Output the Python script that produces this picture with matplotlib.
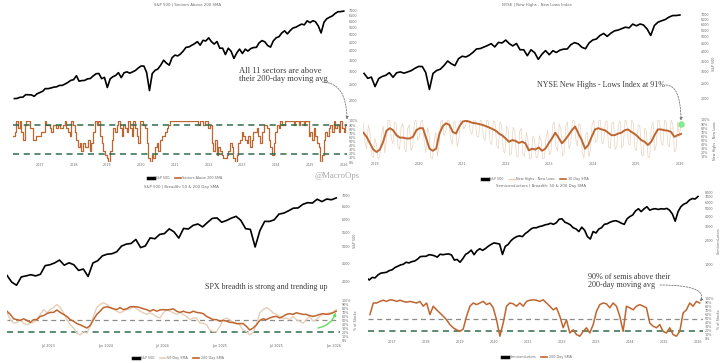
import matplotlib
matplotlib.use("Agg")
import matplotlib.pyplot as plt
from matplotlib.lines import Line2D
from matplotlib.ticker import NullLocator
import pandas as pd

W, H = 720, 363

# S&P 500 monthly closes, Mar 2016 - Dec 2025 (intra-month lows kept for crash months)
spx_monthly = [
    2060, 2065, 2097, 2099, 2174, 2171, 2168, 2126, 2199, 2239,
    2279, 2364, 2363, 2384, 2412, 2423, 2470, 2472, 2519, 2575, 2648, 2674,
    2824, 2620, 2641, 2648, 2705, 2718, 2816, 2902, 2914, 2712, 2760, 2400,
    2704, 2784, 2834, 2946, 2752, 2942, 2980, 2926, 2977, 3038, 3141, 3231,
    3226, 2954, 2300, 2912, 3044, 3100, 3271, 3500, 3363, 3270, 3622, 3756,
    3714, 3811, 3973, 4181, 4204, 4298, 4395, 4523, 4308, 4605, 4567, 4766,
    4516, 4374, 4530, 4132, 4132, 3785, 4130, 3955, 3586, 3872, 4080, 3840,
    4077, 3970, 4109, 4169, 4180, 4450, 4589, 4508, 4288, 4194, 4568, 4770,
    4846, 5096, 5254, 5036, 5278, 5460, 5522, 5648, 5762, 5705, 6032, 5882,
    6041, 5955, 5612, 5100, 5912, 6205, 6339, 6460, 6688, 6840, 6849, 6900,
]

# Semiconductors index monthly, Mar 2016 - Dec 2025
semis_monthly = [
    690, 650, 700, 690, 750, 790, 800, 810, 850, 870,
    930, 960, 1000, 1020, 1080, 1060, 1100, 1120, 1180, 1270, 1280, 1280,
    1340, 1330, 1300, 1250, 1360, 1340, 1360, 1370, 1330, 1150, 1170, 1080,
    1200, 1350, 1420, 1530, 1340, 1500, 1590, 1520, 1600, 1710, 1800, 1880,
    1850, 1820, 1350, 1700, 1800, 2000, 2150, 2250, 2300, 2250, 2450, 2600,
    2800, 2900, 2900, 3000, 3050, 3150, 3200, 3300, 3200, 3350, 3700, 3750,
    3400, 3300, 3150, 2900, 2800, 2600, 2950, 2700, 2250, 2100, 2600, 2500,
    2800, 2900, 3200, 3250, 3400, 3500, 3550, 3450, 3300, 3200, 3750, 4000,
    4200, 4700, 5000, 4600, 5000, 5300, 4800, 4950, 5000, 4900, 5000, 4950,
    5050, 4800, 4300, 3500, 4600, 5300, 5700, 5900, 6400, 6700, 6600, 7100,
]

# number of S&P 500 sectors (out of 11) above their 200-day SMA
sectors_above = [
    7, 8, 11, 9, 11, 8, 6, 10, 11, 11, 9, 9, 6, 6, 7, 7, 7, 8, 8, 11,
    10, 10, 9, 8, 10, 10, 9, 10, 9, 9, 10, 11, 9, 8, 7, 11, 10, 8, 6, 4,
    5, 3, 5, 4, 4, 6, 3, 5, 8, 11, 10, 11, 7, 5, 3, 2, 1, 0, 3, 6,
    9, 8, 10, 11, 9, 7, 10, 9, 8, 11, 9, 7, 11, 9, 7, 5, 11, 11, 10, 9,
    5, 1, 0, 2, 1, 4, 5, 3, 6, 7, 7, 8, 9, 10, 11, 11, 11, 11, 11, 11,
    11, 11, 11, 11, 11, 11, 11, 11, 11, 11, 11, 10, 11, 11, 10, 11, 11, 9, 10, 5,
    3, 6, 2, 4, 3, 2, 1, 1, 2, 3, 5, 4, 1, 0, 2, 5, 6, 8, 7, 6,
    5, 7, 4, 6, 8, 8, 9, 7, 5, 8, 10, 10, 9, 6, 4, 2, 5, 8, 10, 9,
    11, 10, 10, 11, 11, 11, 11, 11, 10, 11, 11, 10, 11, 11, 10, 11, 11, 7, 8, 6,
    9, 7, 5, 4, 0, 2, 6, 8, 7, 9, 10, 8, 11, 9, 10, 8, 11, 9, 8, 10,
    11,
]

# NYSE new highs - new lows index (%) and its 10 day SMA
nhnl_raw = [
    92, 45, 30, 88, 70, 15, 8, 55, 40, 5, 10, 62, 85, 20, 48, 100, 98, 55, 42, 95,
    90, 35, 28, 84, 92, 30, 22, 80, 88, 25, 35, 95, 100, 50, 58, 97, 100, 45, 20, 82,
    65, 8, 5, 48, 70, 12, 40, 96, 100, 62, 70, 100, 100, 55, 40, 97, 94, 35, 52, 100,
    100, 78, 85, 100, 100, 72, 65, 100, 99, 60, 58, 100, 97, 55, 50, 100, 95, 45, 40, 98,
    92, 38, 30, 95, 88, 25, 20, 85, 78, 15, 18, 82, 76, 12, 10, 72, 80, 15, 12, 70,
    52, 5, 6, 60, 55, 8, 10, 62, 50, 5, 8, 58, 75, 15, 22, 88, 96, 35, 25, 90,
    78, 12, 20, 85, 95, 30, 42, 100, 100, 55, 35, 92, 85, 18, 8, 62, 70, 10, 28, 90,
    100, 45, 50, 98, 100, 42, 45, 95, 98, 35, 30, 92, 95, 28, 35, 90, 98, 32, 40, 100,
    96, 45, 38, 100, 92, 30, 25, 88, 85, 15, 12, 80, 72, 8, 10, 82, 95, 25, 40, 100,
    98, 45, 38, 100, 95, 40, 35, 100, 90, 22, 28, 96, 60, 91,
]
nhnl_sma = [
    69, 59, 43, 28, 22, 28, 47, 74, 80, 75,
    63, 57, 57, 55, 55, 59, 75, 80, 80, 55,
    30, 25, 30, 67, 85, 92, 88, 71, 67, 84,
    96, 98, 96, 93, 92, 90, 88, 85, 82, 78,
    74, 67, 62, 55, 47, 51, 49, 44, 47, 43,
    26, 30, 28, 33, 25, 30, 43, 55, 69, 57,
    43, 52, 63, 75, 84, 67, 51, 30, 39, 59,
    77, 80, 77, 75, 69, 63, 63, 67, 69, 75,
    77, 71, 66, 59, 51, 47, 39, 47, 63, 77,
    77, 75, 74, 71, 59, 63, 66,
]

# S&P 500 twice a month, Feb 2023 - Dec 2025
spx_recent = [
    4150, 3970, 3890, 4109, 4137, 4169, 4136, 4180, 4425, 4450, 4505, 4589,
    4437, 4508, 4450, 4288, 4327, 4120, 4502, 4568, 4719, 4770,
    4784, 4846, 5029, 5096, 5117, 5254, 4980, 5036, 5308, 5278, 5431, 5460,
    5631, 5522, 5300, 5648, 5626, 5762, 5815, 5705, 5870, 6032, 6051, 5882,
    5949, 6041, 6114, 5955, 5639, 5612, 5000, 5569, 5916, 5912, 5977, 6205,
    6244, 6339, 6450, 6460, 6615, 6688, 6671, 6840, 6734, 6849, 6816, 6900,
]
# % of S&P 500 stocks above their 50 / 200 day SMA
spx_pct_50d = [
    68, 51, 42, 44, 51, 42, 38, 42, 44, 53,
    64, 76, 68, 76, 81, 89, 81, 68, 51, 38,
    30, 17, 13, 21, 17, 34, 59, 81, 89, 93,
    89, 81, 78, 72, 68, 72, 76, 78, 85, 78,
    72, 68, 64, 68, 64, 58, 55, 68, 76, 72,
    68, 64, 69, 64, 59, 51, 55, 55, 42, 42,
    38, 25, 21, 21, 34, 51, 55, 51, 42, 42,
    38, 25, 21, 13, 19, 38, 68, 76, 81, 76,
    68, 64, 59, 53, 55, 51, 59, 51, 47, 42,
    51, 59, 47, 51, 59, 64, 66, 68, 69, 76,
]
spx_pct_200d = [
    72, 64, 53, 51, 49, 53, 49, 44, 51, 51,
    59, 61, 66, 69, 69, 75, 69, 64, 59, 51,
    47, 41, 38, 34, 30, 36, 51, 64, 72, 81,
    83, 81, 78, 76, 81, 76, 78, 83, 83, 83,
    81, 78, 76, 72, 76, 72, 75, 76, 75, 76,
    78, 72, 69, 72, 69, 68, 72, 69, 68, 66,
    59, 55, 51, 51, 47, 49, 47, 44, 44, 41,
    41, 41, 34, 25, 30, 38, 49, 53, 51, 55,
    58, 59, 55, 59, 64, 66, 64, 68, 66, 64,
    64, 61, 59, 61, 64, 66, 64, 65, 68, 72,
]

# % of semiconductor stocks above their 200 day SMA
semis_pct_200d = [
    61, 90, 90, 94, 97, 94, 98, 97, 94, 97,
    94, 92, 94, 92, 90, 94, 82, 90, 61, 82,
    73, 65, 57, 48, 36, 28, 23, 19, 25, 57,
    82, 90, 86, 90, 94, 86, 90, 78, 48, 7,
    40, 82, 90, 88, 82, 90, 82, 94, 97, 98,
    97, 94, 98, 90, 82, 73, 78, 57, 28, 48,
    15, 23, 11, 7, 19, 28, 15, 36, 69, 86,
    90, 88, 78, 90, 82, 57, 19, 82, 78, 73,
    82, 86, 82, 78, 40, 32, 28, 36, 19, 15,
    28, 11, 7, 19, 65, 73, 90, 82, 94, 90,
]

ORANGE = "#bf6530"
TAN = "#e6cfb8"
DGREEN = "#2f6b4c"
DASHGRAY = "#8c8c8c"
TXT = "#6a6a6a"
NOTE = "#3c3c3c"
LAB = 2.4

monthly_dates = pd.date_range("2016-04-01", periods=len(spx_monthly), freq="MS")
sector_dates = pd.date_range("2016-03-17", "2026-02-05", periods=len(sectors_above))
nhnl_raw_dates = pd.date_range("2018-09-25", "2026-01-10", periods=len(nhnl_raw))
nhnl_sma_dates = pd.date_range("2018-09-25", "2026-01-10", periods=len(nhnl_sma))
recent_dates = pd.date_range("2023-02-20", "2026-01-10", periods=len(spx_recent))
recent_breadth_dates = pd.date_range("2023-02-20", "2026-01-10", periods=len(spx_pct_200d))
semis_breadth_dates = pd.date_range("2016-05-08", "2026-01-20", periods=len(semis_pct_200d))


def pix_box(x0, y0, x1, y1):
    return [x0 / W, 1 - y1 / H, (x1 - x0) / W, (y1 - y0) / H]


def clean(ax):
    for s in ax.spines.values():
        s.set_visible(False)
    ax.patch.set_alpha(0)
    ax.yaxis.tick_right()
    ax.tick_params(length=0, labelsize=LAB, colors=TXT, pad=1.5)


def price_axes(box, xlim, ylim, ticks):
    ax = fig.add_axes(pix_box(*box))
    clean(ax)
    ax.set_yscale("log")
    ax.set_ylim(*ylim)
    ax.set_yticks(ticks)
    ax.set_yticklabels([str(t) for t in ticks])
    ax.yaxis.set_minor_locator(NullLocator())
    ax.set_xlim(*xlim)
    ax.set_xticks([])
    return ax


def breadth_axes(box, xlim, yticks, xticks, xlabels, xpad=1.0):
    ax = fig.add_axes(pix_box(*box))
    clean(ax)
    ax.set_ylim(0, 100)
    ax.set_yticks(yticks)
    ax.set_yticklabels([f"{v}%" for v in yticks])
    ax.set_xlim(*xlim)
    ax.set_xticks(xticks)
    ax.set_xticklabels(xlabels)
    ax.tick_params(axis="x", pad=xpad)
    return ax


def legend(handles, labels, cx, cy):
    fig.legend(handles, labels, loc="center", bbox_to_anchor=(cx / W, 1 - cy / H),
               ncol=len(handles), frameon=False, fontsize=LAB, handlelength=1.8,
               columnspacing=1.5, handletextpad=0.5, labelcolor=TXT)


def note_arrow(ax, xy, start, color="#7a7a7a", style="angle3,angleA=0,angleB=90", dashed=True):
    ax.annotate("", xy=xy, xycoords="data", xytext=(start[0], H - start[1]),
                textcoords="figure pixels",
                arrowprops=dict(arrowstyle="-|>", color=color, lw=0.6 if dashed else 1.0,
                                linestyle=(0, (2, 1.5)) if dashed else "-",
                                mutation_scale=4, shrinkA=0, shrinkB=1,
                                connectionstyle=style))


def years(a, b):
    return [pd.Timestamp(f"{y}-01-01") for y in range(a, b + 1)], [str(y) for y in range(a, b + 1)]


fig = plt.figure(figsize=(7.2, 3.63), dpi=100)
serif = ["Liberation Serif", "DejaVu Serif"]
k_line = Line2D([], [], color="black", lw=2.5)

# ---------------- top left: sectors above 200 SMA ----------------
tl_x = (pd.Timestamp("2016-03-17"), pd.Timestamp("2026-02-05"))
ax = price_axes((13, 8, 347, 118), tl_x, (1575, 7200), list(range(2000, 7001, 500)))
ax.plot(monthly_dates, spx_monthly, color="black", lw=1.2)
yt, yl = years(2017, 2026)
bx = breadth_axes((13, 121, 347, 162), tl_x, list(range(0, 101, 10)), yt, yl)
sector_pct = [c / 11 * 100 for c in sectors_above]
bx.plot(sector_dates, sector_pct, color=ORANGE, lw=0.9, drawstyle="steps-post")
bx.axhline(90, color=DGREEN, lw=1.1, ls=(0, (4, 3)))
bx.axhline(20, color=DGREEN, lw=1.1, ls=(0, (4, 3)))
fig.text(187 / W, 1 - 5 / H, "S&P 500 | Sectors Above 200 SMA", ha="center", va="center",
         fontsize=2.8, color=TXT)
fig.text(239 / W, 1 - 75 / H, "All 11 sectors are above\ntheir 200-day moving avg",
         ha="left", va="center", fontsize=6.1, color=NOTE, family=serif, linespacing=1.15)
note_arrow(bx, (sector_dates[-1], sector_pct[-1]), (322, 82))
legend([k_line, Line2D([], [], color=ORANGE, lw=1.2)], ["S&P 500", "Sectors Above 200 SMA"], 185, 178)
fig.text(337 / W, 1 - 176 / H, "@MacroOps", ha="center", va="center", fontsize=6.3,
         color="#a8a8a8", family=serif)

# ---------------- top right: NYSE new highs - new lows ----------------
tr_x = (pd.Timestamp("2018-09-22"), pd.Timestamp("2026-06-10"))
ax = price_axes((363, 8, 699, 120), tr_x, (1466, 7650), list(range(2000, 7001, 500)))
ax.plot(monthly_dates[monthly_dates >= "2018-10-01"],
        [v for d, v in zip(monthly_dates, spx_monthly) if d >= pd.Timestamp("2018-10-01")],
        color="black", lw=1.2)
ax.set_ylabel("S&P 500", fontsize=LAB, color=TXT, labelpad=2)
ax.yaxis.set_label_position("right")
yt, yl = years(2019, 2026)
bx = breadth_axes((363, 120, 699, 161), tr_x, list(range(10, 101, 10)), yt, yl)
bx.plot(nhnl_raw_dates, nhnl_raw, color=TAN, lw=0.45)
bx.plot(nhnl_sma_dates, nhnl_sma, color=ORANGE, lw=1.4)
bx.scatter([nhnl_raw_dates[-1]], [nhnl_raw[-1]], s=22, color="#86e88f", zorder=5, lw=0)
bx.set_ylabel("New Highs - New Lows", fontsize=LAB, color=TXT, labelpad=2)
bx.yaxis.set_label_position("right")
fig.text(537 / W, 1 - 5 / H, "NYSE | New Highs - New Lows Index", ha="center", va="center",
         fontsize=2.8, color=TXT)
fig.text(537 / W, 1 - 85 / H, "NYSE New Highs - Lows Index at 91%", ha="left", va="center",
         fontsize=5.8, color=NOTE, family=serif)
note_arrow(bx, (nhnl_raw_dates[-1], nhnl_raw[-1] + 4), (666, 85))
legend([k_line, Line2D([], [], color=TAN, lw=1.0), Line2D([], [], color=ORANGE, lw=1.2)],
       ["S&P 500", "New Highs - New Lows", "10 Day SMA"], 535, 179)

# ---------------- bottom left: S&P 500 breadth 50 & 200 ----------------
bl_x = (pd.Timestamp("2023-02-20"), pd.Timestamp("2026-01-22"))
ax = price_axes((7, 192, 340, 290), bl_x, (3771, 7172), list(range(4000, 7001, 500)))
ax.plot(recent_dates, spx_recent, color="black", lw=1.2)
ax.set_ylabel("S&P 500", fontsize=LAB, color=TXT, labelpad=2)
ax.yaxis.set_label_position("right")
half = ["2023-07-01", "2024-01-01", "2024-07-01", "2025-01-01", "2025-07-01", "2026-01-01"]
half_lab = ["Jul 2023", "Jan 2024", "Jul 2024", "Jan 2025", "Jul 2025", "Jan 2026"]
bx = breadth_axes((7, 300, 340, 340), bl_x, list(range(0, 101, 10)),
                  [pd.Timestamp(d) for d in half], half_lab, xpad=3)
bx.axhline(50, color=DASHGRAY, lw=0.9, ls=(0, (4, 3)))
bx.axhline(20, color=DGREEN, lw=1.1, ls=(0, (4, 3)))
bx.plot(recent_breadth_dates, spx_pct_50d, color=TAN, lw=1.0)
bx.plot(recent_breadth_dates, spx_pct_200d, color=ORANGE, lw=1.1)
bx.set_ylabel("% of Stocks", fontsize=LAB, color=TXT, labelpad=2)
bx.yaxis.set_label_position("right")
fig.text(181 / W, 1 - 187 / H, "S&P 500 | Breadth: 50 & 200 Day SMA", ha="center", va="center",
         fontsize=2.8, color=TXT)
fig.text(205 / W, 1 - 287 / H, "SPX breadth is strong and trending up", ha="left", va="center",
         fontsize=5.8, color=NOTE, family=serif)
note_arrow(bx, (recent_breadth_dates[-1], spx_pct_200d[-1]), (318, 328), color="#5fe05f",
           style="arc3,rad=0.3", dashed=False)
legend([k_line, Line2D([], [], color=TAN, lw=1.2), Line2D([], [], color=ORANGE, lw=1.2)],
       ["S&P 500", "50 Day SMA", "200 Day SMA"], 178, 358)

# ---------------- bottom right: semiconductors breadth ----------------
br_x = (pd.Timestamp("2016-04-17"), pd.Timestamp("2026-02-24"))
ax = price_axes((368, 192, 703, 290), br_x, (488, 8075), [1000, 2000, 3000, 4000, 5000, 6000, 7000, 8000])
ax.plot(monthly_dates, semis_monthly, color="black", lw=1.2)
ax.set_ylabel("Semiconductors", fontsize=LAB, color=TXT, labelpad=2)
ax.yaxis.set_label_position("right")
yt, yl = years(2017, 2026)
bx = breadth_axes((368, 299, 703, 339), br_x, list(range(0, 101, 10)), yt, yl)
bx.axhline(50, color=DASHGRAY, lw=0.9, ls=(0, (4, 3)))
bx.axhline(20, color=DGREEN, lw=1.1, ls=(0, (4, 3)))
bx.plot(semis_breadth_dates, semis_pct_200d, color=ORANGE, lw=1.1)
bx.set_ylabel("% of Stocks", fontsize=LAB, color=TXT, labelpad=2)
bx.yaxis.set_label_position("right")
fig.text(541 / W, 1 - 186 / H, "Semiconductors | Breadth: 50 & 200 Day SMA", ha="center",
         va="center", fontsize=2.8, color=TXT)
fig.text(588 / W, 1 - 281 / H, "90% of semis above their\n200-day moving avg", ha="left",
         va="center", fontsize=5.9, color=NOTE, family=serif, linespacing=1.15)
note_arrow(bx, (semis_breadth_dates[-1], semis_pct_200d[-1]), (660, 285),
           style="angle3,angleA=0,angleB=60")
legend([k_line, Line2D([], [], color=ORANGE, lw=1.2)], ["Semiconductors", "200 Day SMA"], 537, 357)

fig.savefig("out.png", dpi=100)
